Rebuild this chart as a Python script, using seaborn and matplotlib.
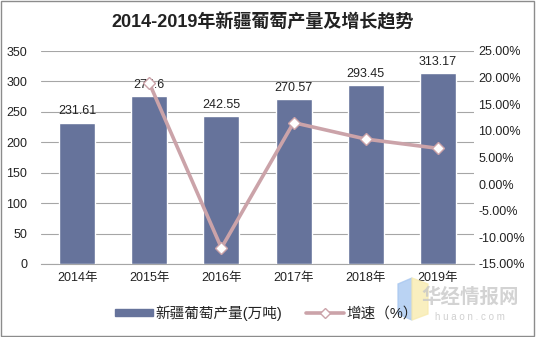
import matplotlib
matplotlib.use("Agg")
import matplotlib.pyplot as plt
import matplotlib.patches as mpatches
import matplotlib.lines as mlines
from matplotlib.ticker import FuncFormatter, MultipleLocator
import seaborn as sns
import pandas as pd
import numpy as np

years = ["2014年", "2015年", "2016年", "2017年", "2018年", "2019年"]
output = [231.61, 275.6, 242.55, 270.57, 293.45, 313.17]
output_labels = ["231.61", "275.6", "242.55", "270.57", "293.45", "313.17"]
growth_years = ["2015年", "2016年", "2017年", "2018年", "2019年"]
growth = [18.99, -11.99, 11.55, 8.46, 6.72]

bar_color = "#66739B"
line_color = "#CBA3A9"
fonts = ["Liberation Sans", "Noto Sans CJK SC", "DejaVu Sans"]

sns.set_theme(style="white")
plt.rcParams["font.family"] = fonts
plt.rcParams["axes.unicode_minus"] = False

fig = plt.figure(figsize=(5.36, 3.37), dpi=100)
ax = fig.add_axes([41 / 536, 1 - 264 / 337, 433 / 536, 213 / 337])

df = pd.DataFrame({"year": years, "output": output})
sns.barplot(data=df, x="year", y="output", color=bar_color, saturation=1,
            width=0.5, ax=ax, zorder=3)

for i, (v, lab) in enumerate(zip(output, output_labels)):
    ax.annotate(lab, (i, v), xytext=(0, 4), textcoords="offset points",
                ha="center", va="bottom", fontsize=9, color="#222222", zorder=6)

ax.set_xlim(-0.5, 5.5)
ax.set_ylim(0, 350)
ax.yaxis.set_major_locator(MultipleLocator(50))
ax.grid(axis="y", color="#A6A6A6", linewidth=0.8, zorder=0)
ax.set_xlabel("")
ax.set_ylabel("")
for s in ["top", "right", "left"]:
    ax.spines[s].set_visible(False)
ax.spines["bottom"].set_color("#A6A6A6")
ax.spines["bottom"].set_linewidth(0.8)
ax.tick_params(axis="y", length=0, labelsize=9, labelcolor="#222222", pad=10)
ax.tick_params(axis="x", which="major", length=0, labelsize=9,
               labelcolor="#222222", pad=6)
ax.set_xticks(np.arange(-0.5, 6.0, 1.0), minor=True)
ax.tick_params(axis="x", which="minor", length=4, color="#A6A6A6", width=0.8)

ax2 = ax.twinx()
gx = [years.index(y) for y in growth_years]
gdf = pd.DataFrame({"x": gx, "growth": growth})
sns.lineplot(data=gdf, x="x", y="growth", ax=ax2, color=line_color,
             linewidth=2.6, marker="D", markersize=6,
             markerfacecolor="white", markeredgecolor=line_color,
             markeredgewidth=1.0, zorder=5)
ax2.set_ylim(-15, 25)
ax2.yaxis.set_major_locator(MultipleLocator(5))
ax2.yaxis.set_major_formatter(FuncFormatter(lambda v, p: f"{v:.2f}%"))
ax2.set_ylabel("")
ax2.set_xlabel("")
ax2.set_xlim(-0.5, 5.5)
for s in ["top", "right", "left", "bottom"]:
    ax2.spines[s].set_visible(False)
ax2.tick_params(axis="y", length=0, labelsize=9, labelcolor="#222222", pad=3)
ax2.grid(False)

fig.text(0.49, 1 - 22 / 337, "2014-2019年新疆葡萄产量及增长趋势",
         ha="center", va="center", fontsize=13, fontweight="bold",
         color="#222222", family=fonts)

h_bar = mpatches.Patch(color=bar_color, label="新疆葡萄产量(万吨)")
h_line = mlines.Line2D([], [], color=line_color, linewidth=2.6, marker="D",
                       markersize=5, markerfacecolor="white",
                       markeredgecolor=line_color, label="增速（%）")
leg = fig.legend(handles=[h_bar, h_line], loc="center",
                 bbox_to_anchor=(0.497, 1 - 313 / 337), ncol=2, frameon=False,
                 fontsize=10.5, handlelength=2.6, handleheight=0.45,
                 columnspacing=1.6, handletextpad=0.2)
for t in leg.get_texts():
    t.set_color("#222222")

# watermark
fig.text(470 / 536, 1 - 297 / 337, "华经情报网", ha="center", va="center",
         fontsize=14, fontweight="bold", color="#C8C8C8", alpha=0.8,
         family=fonts)
fig.text(470 / 536, 1 - 317 / 337, "h u a o n . c o m", ha="center",
         va="center", fontsize=7, color="#D0D0D0", family=fonts)
fig.patches.append(mpatches.Polygon([[398 / 536, 1 - 284 / 337], [412 / 536, 1 - 278 / 337],
                                     [412 / 536, 1 - 320 / 337], [398 / 536, 1 - 314 / 337]],
                                    closed=True, transform=fig.transFigure,
                                    color="#A9C8F0", alpha=0.8))
fig.patches.append(mpatches.Polygon([[412 / 536, 1 - 278 / 337], [428 / 536, 1 - 284 / 337],
                                     [428 / 536, 1 - 314 / 337], [412 / 536, 1 - 320 / 337]],
                                    closed=True, transform=fig.transFigure,
                                    color="#F8EBB0", alpha=0.8))

# outer frame
fig.patches.append(mpatches.Rectangle((0.002, 0.003), 0.995, 0.994,
                                      transform=fig.transFigure, fill=False,
                                      edgecolor="#8C8C8C", linewidth=1.0))

fig.savefig("out.png", dpi=100)
